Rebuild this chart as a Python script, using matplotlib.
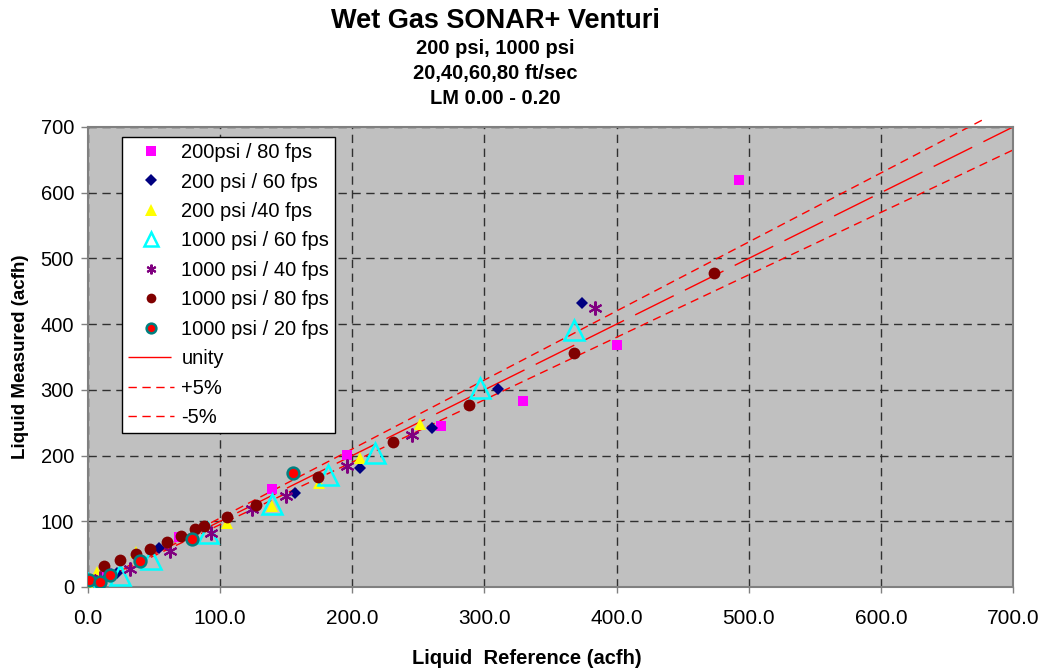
import matplotlib
matplotlib.use("Agg")
import matplotlib.pyplot as plt
import numpy as np

# ---- data ----
x_200_80 = [14, 69, 139, 196, 267, 329, 400, 493]
y_200_80 = [21, 76, 149, 201, 245, 283, 368, 619]

x_200_60 = [22, 54, 157, 206, 260, 310, 374]
y_200_60 = [21, 59, 143, 181, 242, 301, 432]

x_200_40 = [0, 7, 36, 105, 139, 175, 206, 251]
y_200_40 = [5, 23, 54, 97, 124, 158, 197, 248]

x_1000_60 = [0, 24, 48, 91, 139, 182, 217, 297, 368]
y_1000_60 = [5, 19, 43, 82, 126, 170, 204, 303, 391]

x_1000_40 = [9, 32, 62, 93, 124, 150, 196, 245, 384]
y_1000_40 = [13, 28, 55, 82, 119, 139, 184, 232, 425]

x_1000_80 = [12, 24, 36, 47, 60, 70, 81, 88, 105, 127, 174, 231, 288, 368, 474]
y_1000_80 = [32, 41, 50, 58, 69, 77, 88, 93, 107, 125, 168, 221, 277, 356, 478]

x_1000_20 = [1, 9, 17, 39, 79, 155]
y_1000_20 = [10, 7, 19, 40, 73, 174]

unity_x = [0, 700]
plus5_x = [0, 680]
minus5_x = [0, 700]

x_ticks = [0, 100, 200, 300, 400, 500, 600, 700]
y_ticks = [0, 100, 200, 300, 400, 500, 600, 700]

title = "Wet Gas SONAR+ Venturi"
subtitles = ["200 psi, 1000 psi", "20,40,60,80 ft/sec", "LM 0.00 - 0.20"]

plt.rcParams['font.family'] = ['Liberation Sans', 'DejaVu Sans']

W, H = 1041, 668
fig = plt.figure(figsize=(W / 100, H / 100), dpi=100)
ax = fig.add_axes([88 / W, 1 - 587 / H, 925 / W, 460 / H])
ax.set_facecolor('#C0C0C0')

ax.set_xlim(0, 700)
ax.set_ylim(0, 700)

ax.grid(True, color='#303030', linestyle=(0, (6, 4)), linewidth=1.0)
ax.set_axisbelow(True)

ms_kw = dict(linestyle='none', zorder=3)
h1, = ax.plot(x_200_80, y_200_80, marker='s', color='#FF00FF', markersize=7.5,
              markeredgewidth=0, label='200psi / 80 fps', **ms_kw)
h2, = ax.plot(x_200_60, y_200_60, marker='D', color='#000080', markersize=6.5,
              markeredgewidth=0, label='200 psi / 60 fps', **ms_kw)
h3, = ax.plot(x_200_40, y_200_40, marker='^', color='#FFFF00', markersize=9,
              markeredgewidth=0, label='200 psi /40 fps', **ms_kw)
h4, = ax.plot(x_1000_60, y_1000_60, marker='^', markerfacecolor='none',
              markeredgecolor='#00FFFF', markersize=15, markeredgewidth=1.8,
              label='1000 psi / 60 fps', **ms_kw)
h5, = ax.plot(x_1000_40, y_1000_40, marker=(6, 2, 0), color='#800080',
              markersize=10, markeredgewidth=1.5, label='1000 psi / 40 fps', **ms_kw)
h6, = ax.plot(x_1000_80, y_1000_80, marker='o', color='#800000', markersize=8.5,
              markeredgewidth=0, label='1000 psi / 80 fps', **ms_kw)
h7, = ax.plot(x_1000_20, y_1000_20, marker='o', markerfacecolor='#FF0000',
              markeredgecolor='#008080', markersize=8.5, markeredgewidth=1.8,
              label='1000 psi / 20 fps', **ms_kw)

ux = np.array(unity_x, dtype=float)
px = np.array(plus5_x, dtype=float)
mx = np.array(minus5_x, dtype=float)
l1, = ax.plot(ux, ux, color='#FF0000', linewidth=1.0, dashes=(31, 9), label='unity', zorder=2)
l2, = ax.plot(px, 1.05 * px, color='#FF0000', linewidth=1.0, dashes=(6, 4), label='+5%',
              zorder=2, clip_on=False)
l3, = ax.plot(mx, 0.95 * mx, color='#FF0000', linewidth=1.0, dashes=(6, 4), label='-5%', zorder=2)

for s in ax.spines.values():
    s.set_color('#808080')
    s.set_linewidth(1.5)

ax.set_xticks(x_ticks)
ax.set_xticklabels([f"{v:.1f}" for v in x_ticks], fontsize=15)
ax.set_yticks(y_ticks)
ax.set_yticklabels([str(v) for v in y_ticks], fontsize=14.5)
ax.tick_params(axis='x', direction='out', length=4, width=1, color='#808080', pad=12)
ax.tick_params(axis='y', direction='out', length=5, width=1, color='#808080', pad=5)

ax.set_xlabel('Liquid  Reference (acfh)', fontsize=14.5, fontweight='bold', labelpad=17)
ax.xaxis.set_label_coords((527 - 88) / 925, -(659 - 587) / 460)
ax.xaxis.label.set_va('center')
ax.set_ylabel('Liquid Measured (acfh)', fontsize=13.5, fontweight='bold', labelpad=8)

leg = ax.legend(handles=[h1, h2, h3, h4, h5, h6, h7, l1, l2, l3],
                loc='upper left', bbox_to_anchor=(34 / 925, (587 - 137) / 460),
                borderaxespad=0, fancybox=False, framealpha=1, edgecolor='black',
                fontsize=14.5, labelspacing=0.52, handlelength=2.3, handletextpad=0.35,
                borderpad=0.3)
leg.get_frame().set_linewidth(1.0)
sizes = [6.5, 6, 8, 10, 7, 7, 7]
for hnd, sz in zip(leg.legend_handles[:7], sizes):
    hnd.set_markersize(sz)

cx = 495 / W
fig.text(cx, 1 - 21 / H, title, ha='center', va='center', fontsize=19.5, fontweight='bold')
for i, t in enumerate(subtitles):
    fig.text(cx, 1 - (49 + 25 * i) / H, t, ha='center', va='center', fontsize=14.5,
             fontweight='bold')

fig.savefig('out.png', dpi=100)
